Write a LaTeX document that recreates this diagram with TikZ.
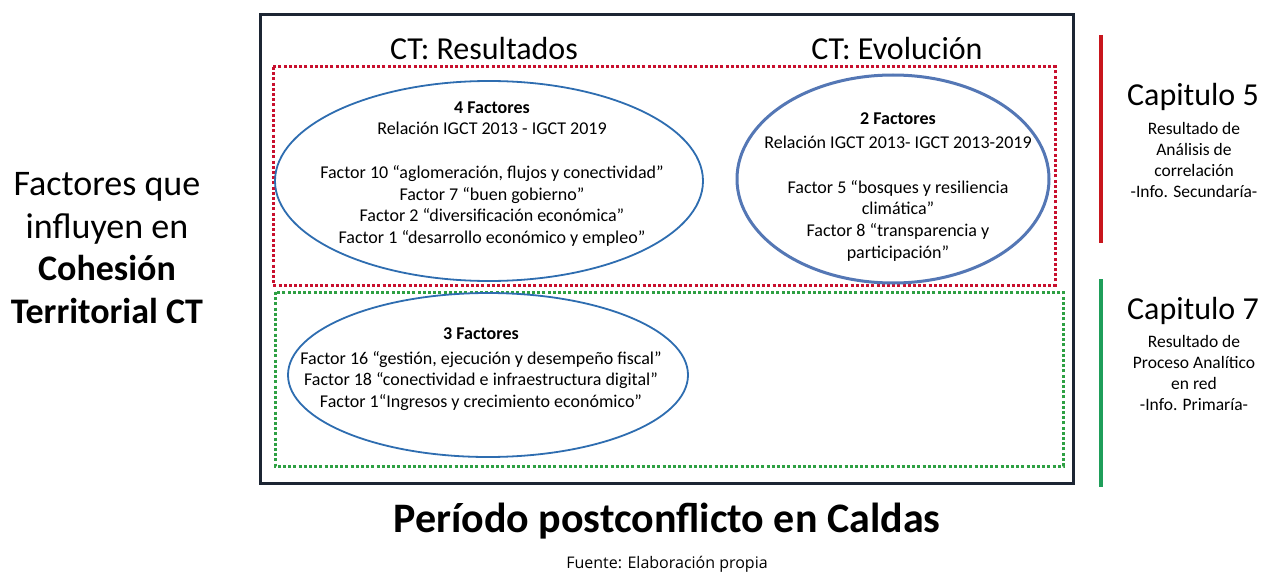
\documentclass[tikz,border=0pt]{standalone}
\usepackage{fontspec}
\setmainfont{Carlito}
\newfontfamily\footfont{Open Sans}
\definecolor{navy}{HTML}{1C2533}
\definecolor{ellblue}{HTML}{2E6DB0}
\definecolor{ellsteel}{HTML}{5477B5}
\definecolor{dotred}{HTML}{C8102E}
\definecolor{dotgreen}{HTML}{2EA043}
\definecolor{barred}{HTML}{C8161D}
\definecolor{bargreen}{HTML}{1F9E5A}
\tikzset{
  dotbox/.style={line width=3pt, dash pattern=on 3pt off 2.2pt},
  ell/.style={draw=ellblue, line width=1.8pt},
  elltext/.style={align=center, font=\fontsize{18}{21.7}\selectfont, inner sep=0pt},
  smalltext/.style={align=center, font=\fontsize{17.5}{20.9}\selectfont, inner sep=0pt},
  captitle/.style={font=\fontsize{32}{36}\selectfont, inner sep=0pt},
  heading/.style={font=\fontsize{32}{36}\selectfont, inner sep=0pt},
}
\begin{document}
\begin{tikzpicture}[x=1pt,y=-1pt]
\useasboundingbox[fill=white] (0,0) rectangle (1262,578);
% outer frame
\draw[navy, line width=3pt] (260,15) rectangle (1073,483);
% headings
\node[heading] (hres) at (484,49) {CT: Resultados};
\node[heading] (hevo) at (897,49) {CT: Evolución};
% dotted boxes
\draw[dotbox, draw=dotred] (273,67) rectangle (1055,285);
\draw[dotbox, draw=dotgreen] (275,292) rectangle (1063,466);
% ellipses
\draw[ell] (489,181) ellipse [x radius=214, y radius=100];
\draw[draw=ellsteel, line width=3pt] (893,179) ellipse [x radius=156, y radius=104];
\draw[ell] (488,375) ellipse [x radius=200, y radius=82];
% ellipse 1 text
\node[elltext] (e1) at (492,174) {\textbf{4 Factores}\\
Relación IGCT 2013 - IGCT 2019\\[21.7pt]
Factor 10 “aglomeración, flujos y conectividad”\\
Factor 7 “buen gobierno”\\
Factor 2 “diversificación económica”\\
Factor 1 “desarrollo económico y empleo”};
% ellipse 2 text
\node[elltext] (e2) at (898,187) {\textbf{2 Factores}\\[2pt]
Relación IGCT 2013- IGCT 2013-2019\\[23pt]
Factor 5 “bosques y resiliencia\\
climática”\\
Factor 8 “transparencia y\\
participación”};
% ellipse 3 text
\node[elltext] (e3) at (481,369) {\textbf{3 Factores}\\[3pt]
Factor 16 “gestión, ejecución y desempeño fiscal”\\
Factor 18 “conectividad e infraestructura digital”\\
Factor 1“Ingresos y crecimiento económico”};
% left text
\node[align=center, font=\fontsize{36}{42.5}\selectfont, inner sep=0pt] (left) at (107,248)
{Factores que\\ influyen en\\ \textbf{Cohesión}\\ \textbf{Territorial CT}};
% right bars
\coordinate (r1) at (1101,35); \coordinate (r2) at (1101,243);
\coordinate (g1) at (1101,279); \coordinate (g2) at (1101,487);
\draw[barred, line width=3.5pt] (r1) -- (r2);
\draw[bargreen, line width=3.5pt] (g1) -- (g2);
% chapter texts
\node[captitle] (c5) at (1193,97) {Capitulo 5};
\node[smalltext] (c5t) at (1194,160) {Resultado de\\ Análisis de\\ correlación\\ -Info. Secundaría-};
\node[captitle] (c7) at (1193,311) {Capitulo 7};
\node[smalltext] (c7t) at (1194,373) {Resultado de\\ Proceso Analítico\\ en red\\ -Info. Primaría-};
% bottom
\node[font=\fontsize{42}{48}\selectfont\bfseries, inner sep=0pt] (title) at (667,521) {Período postconflicto en Caldas};
\node[font=\footfont\fontsize{16}{20}\selectfont, inner sep=0pt] (src) at (667,564) {Fuente: Elaboración propia};
\end{tikzpicture}
\end{document}
